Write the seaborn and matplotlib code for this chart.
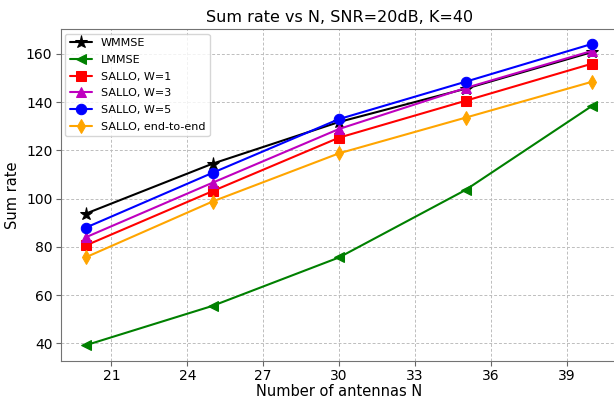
import numpy as np
import pandas as pd
import matplotlib
matplotlib.use("Agg")
import matplotlib.pyplot as plt
import seaborn as sns

# dados
n_antenas = [20, 25, 30, 35, 40]
wmmse = [93.8, 114.5, 131.8, 145.6, 160.8]
lmmse = [39.2, 55.5, 75.6, 103.6, 138.5]
sallo_w1 = [80.6, 103.1, 125.3, 140.6, 156.0]
sallo_w3 = [84.0, 106.6, 128.9, 145.9, 161.3]
sallo_w5 = [88.0, 110.7, 133.0, 148.5, 164.2]
sallo_e2e = [75.7, 98.8, 118.8, 133.6, 148.5]

series = [
    ("WMMSE", wmmse, "black", "*", 9.5),
    ("LMMSE", lmmse, "green", "<", 7.5),
    ("SALLO, W=1", sallo_w1, "red", "s", 7.5),
    ("SALLO, W=3", sallo_w3, "m", "^", 7.5),
    ("SALLO, W=5", sallo_w5, "blue", "o", 7.5),
    ("SALLO, end-to-end", sallo_e2e, "orange", "d", 7.5),
]

sns.set_style("ticks")
plt.rcParams['font.family'] = ['DejaVu Sans']
plt.rcParams['text.color'] = 'black'
plt.rcParams['axes.labelcolor'] = 'black'
plt.rcParams['xtick.color'] = 'black'
plt.rcParams['ytick.color'] = 'black'

fig = plt.figure(figsize=(6.14, 3.98), dpi=100)
ax = fig.add_axes([0.0989, 0.0937, 0.9067, 0.8327])

for nome, valores, cor, marcador, tam in series:
    df = pd.DataFrame({"N": n_antenas, "rate": valores})
    sns.lineplot(data=df, x="N", y="rate", ax=ax, color=cor, marker=marcador,
                 markersize=tam, markeredgecolor=cor, linewidth=1.5, label=nome)

ax.set_xlim(19, 41)
ax.set_ylim(32.75, 170.25)
ax.set_xticks(np.arange(21, 40, 3))
ax.set_yticks(np.arange(40, 161, 20))
ax.grid(True, linestyle=(0, (3, 2)), color="#bdbdbd", linewidth=0.7)
ax.tick_params(labelsize=10, color="0.4", length=3.5, pad=2.5)
for s in ax.spines.values():
    s.set_color("0.45")

ax.set_xlabel("Number of antennas N", fontsize=10.5, labelpad=1)
ax.set_ylabel("Sum rate", fontsize=10.5, labelpad=4)
ax.set_title("Sum rate vs N, SNR=20dB, K=40", fontsize=11.5, pad=5)
ax.legend(loc="upper left", fontsize=8, frameon=True, fancybox=True,
          framealpha=0.8, edgecolor="0.8", labelspacing=0.6,
          borderaxespad=0.4)

fig.savefig("out.png", dpi=100)
